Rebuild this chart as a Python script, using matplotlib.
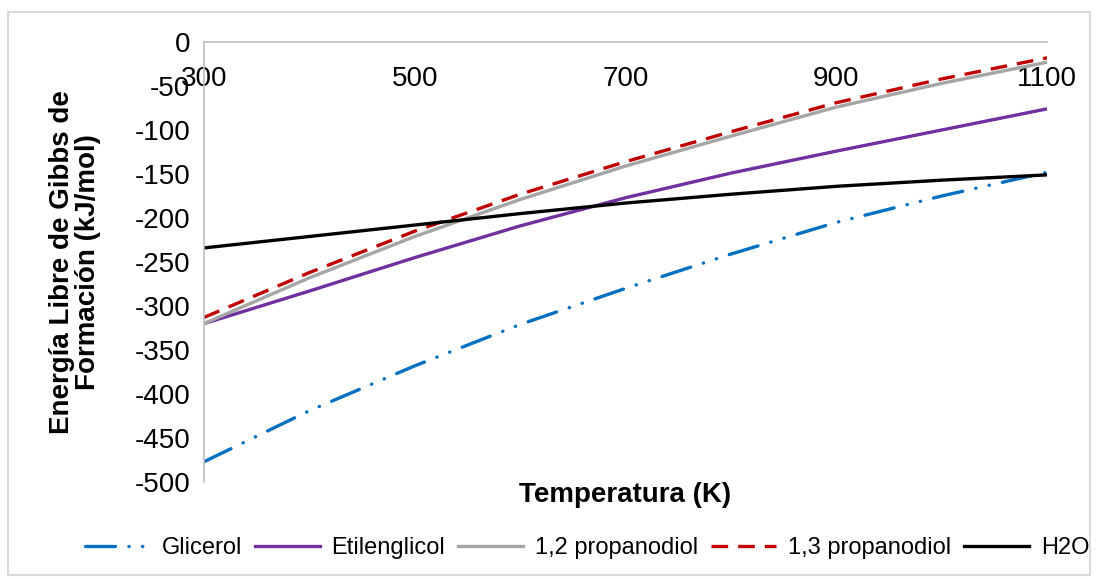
import matplotlib.pyplot as plt
from matplotlib.patches import Rectangle

plt.rcParams['font.family'] = ['Liberation Sans', 'DejaVu Sans']
plt.rcParams['axes.unicode_minus'] = False

temp = [300, 400, 500, 600, 700, 800, 900, 1000, 1100]
glicerol = [-477, -419, -368, -321, -280, -241, -205, -175, -148]
etilenglicol = [-320, -283, -245, -209, -177, -149, -124, -100, -76]
propanodiol_12 = [-320, -268, -221, -179, -141, -107, -74, -47, -23]
propanodiol_13 = [-313, -262, -215, -173, -136, -102, -69, -42, -18]
h2o = [-234, -221, -208, -195, -183, -173, -164, -157, -151]

x_ticks = [300, 500, 700, 900, 1100]
y_ticks = list(range(-500, 1, 50))

fig = plt.figure(figsize=(10.98, 5.79), dpi=100)
ax = fig.add_axes([204 / 1098, 1 - 482 / 579, (1047 - 204) / 1098, (482 - 42) / 579])

lw = 2.4
ax.plot(temp, glicerol, color='#0070C0', lw=lw, label='Glicerol',
        linestyle=(0, (9, 4, 0.1, 4, 0.1, 4)), dash_capstyle='round')
ax.plot(temp, etilenglicol, color='#7030A0', lw=lw, label='Etilenglicol')
ax.plot(temp, propanodiol_12, color='#A5A5A5', lw=lw, label='1,2 propanodiol')
ax.plot(temp, propanodiol_13, color='#C00000', lw=lw, label='1,3 propanodiol',
        linestyle=(0, (5, 3)))
ax.plot(temp, h2o, color='black', lw=lw, label='H2O')

ax.set_xlim(300, 1100)
ax.set_ylim(-500, 0)
ax.set_xticks(x_ticks)
ax.set_yticks(y_ticks)

ax.spines['top'].set_visible(False)
ax.spines['right'].set_visible(False)
ax.spines['bottom'].set_position(('data', 0))
for s in ['left', 'bottom']:
    ax.spines[s].set_color('#BFBFBF')
    ax.spines[s].set_linewidth(1.2)
ax.tick_params(axis='x', length=0, pad=17, labelsize=20)
ax.tick_params(axis='y', length=0, pad=10, labelsize=20)

fig.text(625 / 1098, 1 - 495 / 579, 'Temperatura (K)', fontsize=20, fontweight='bold',
         ha='center', va='center')
fig.text(75 / 1098, 1 - 262 / 579, 'Energía Libre de Gibbs de\nFormación (kJ/mol)',
         fontsize=20, fontweight='bold', rotation=90, ha='center', va='center',
         linespacing=1.0)

fig.legend(loc='center', bbox_to_anchor=(587 / 1098, 1 - 548 / 579), ncol=5,
           frameon=False, fontsize=17, handlelength=2.75, columnspacing=0.55,
           handletextpad=0.5, borderpad=0, borderaxespad=0)

fig.patches.append(Rectangle((8 / 1098, 4 / 579), 1082 / 1098, 563 / 579,
                             transform=fig.transFigure, fill=False,
                             edgecolor='#D9D9D9', lw=1.5))

fig.savefig('out.png', dpi=100)
